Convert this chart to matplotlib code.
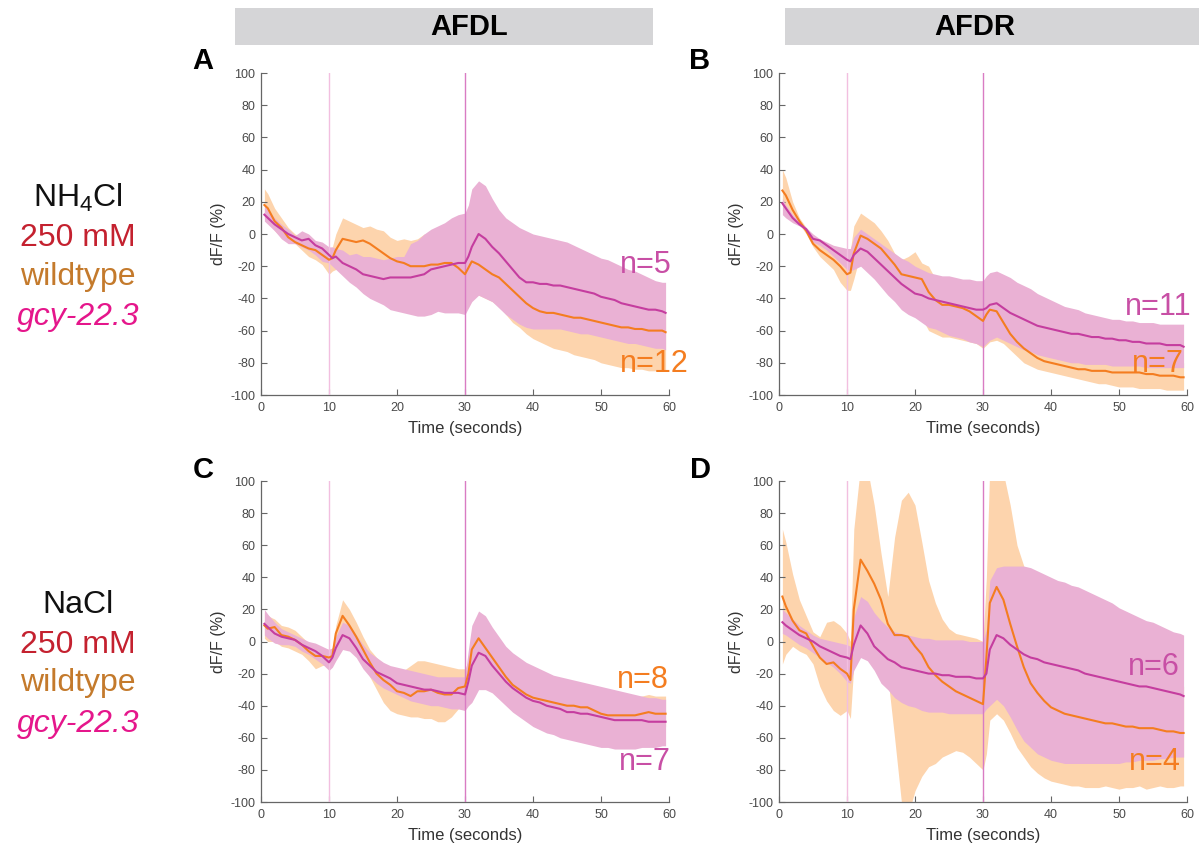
import numpy as np
import matplotlib.pyplot as plt
from matplotlib.patches import Rectangle

plt.rcParams['font.family'] = ['Liberation Sans', 'DejaVu Sans']
plt.rcParams['mathtext.fontset'] = 'custom'
plt.rcParams['mathtext.rm'] = 'Liberation Sans'
plt.rcParams['mathtext.it'] = 'Liberation Sans:italic'
plt.rcParams['axes.unicode_minus'] = False

# sampling grid (s): 0.5, 1..10, 10.5, 11..30, 30.5, 31..59, 59.5
t = np.concatenate(([0.5], np.arange(1, 11), [10.5], np.arange(11, 31), [30.5], np.arange(31, 60), [59.5]))

# ---------------- A : AFDL, NH4Cl ----------------
a_wt_mean = [18, 16, 8, 4, -2, -5, -7, -9, -10, -13, -16,
             -15, -10, -3, -4, -5, -4, -6, -9, -12, -15, -17, -18, -20, -20, -20, -19, -19, -18, -18, -21, -25,
             -21, -17, -19, -22, -25, -27, -31, -35, -39, -43, -46, -48, -49, -49, -50, -51, -52, -52, -53, -54,
             -55, -56, -57, -58, -58, -59, -59, -60, -60, -60, -61]
a_wt_hi = [28, 25, 16, 10, 4, 0, -2, -4, -6, -8, -10,
           -8, 0, 10, 8, 6, 4, 5, 3, 2, -2, -4, -3, -4, -3, 0, -2, -5, -6, -8, -10, -12,
           -10, -5, -7, -10, -13, -15, -19, -23, -27, -31, -35, -36, -37, -38, -39, -41, -40, -41, -42, -43,
           -44, -45, -46, -47, -47, -47, -48, -48, -48, -48, -49]
a_wt_lo = [10, 8, 2, -2, -5, -6, -10, -14, -16, -19, -25,
           -23, -22, -15, -16, -18, -20, -22, -25, -28, -30, -32, -33, -35, -36, -36, -35, -35, -35, -36, -38, -40,
           -38, -37, -38, -40, -42, -45, -50, -55, -58, -62, -65, -67, -69, -71, -72, -73, -75, -76, -77, -78,
           -80, -81, -82, -83, -83, -84, -84, -85, -85, -85, -85]
a_gcy_mean = [12, 10, 6, 3, 0, -2, -4, -3, -7, -9, -13,
              -15, -14, -18, -20, -22, -25, -26, -27, -28, -27, -27, -27, -27, -26, -25, -22, -21, -20, -19, -18, -18,
              -14, -8, 0, -3, -8, -12, -17, -22, -27, -30, -30, -31, -31, -32, -32, -33, -34, -35, -36, -37,
              -39, -40, -41, -43, -44, -45, -46, -47, -47, -48, -49]
a_gcy_hi = [18, 15, 10, 6, 3, -1, 2, 0, -4, -5, -8,
            -8, -9, -10, -13, -12, -14, -14, -15, -16, -15, -14, -14, -6, -4, 0, 3, 5, 7, 10, 12, 13,
            18, 28, 33, 30, 22, 15, 10, 7, 4, 2, 0, -1, -2, -3, -4, -5, -7, -9, -11, -13,
            -15, -16, -18, -20, -22, -23, -25, -27, -29, -30, -30]
a_gcy_lo = [8, 6, 2, -3, -6, -6, -8, -10, -13, -17, -18,
            -20, -22, -26, -30, -33, -37, -40, -42, -44, -47, -48, -49, -50, -51, -51, -50, -48, -49, -49, -49, -50,
            -46, -42, -38, -40, -42, -46, -50, -53, -56, -58, -59, -59, -59, -59, -59, -60, -61, -62, -62, -63,
            -64, -65, -66, -67, -68, -68, -69, -70, -71, -71, -72]

# ---------------- B : AFDR, NH4Cl ----------------
b_wt_mean = [27, 24, 15, 8, 2, -6, -10, -13, -16, -20, -25,
             -24, -12, -1, -3, -6, -9, -14, -19, -25, -26, -27, -28, -36, -41, -44, -44, -45, -46, -48, -51, -54,
             -50, -47, -48, -55, -62, -67, -71, -74, -77, -79, -80, -81, -82, -83, -84, -84, -85, -85, -85, -86,
             -86, -86, -86, -86, -87, -87, -88, -88, -88, -89, -89]
b_wt_hi = [40, 35, 20, 10, 4, -2, -4, -6, -8, -10, -12,
           -10, 5, 13, 10, 7, 2, -4, -12, -16, -14, -11, -18, -20, -28, -32, -34, -35, -36, -38, -40, -42,
           -38, -35, -36, -42, -47, -52, -57, -61, -65, -68, -70, -71, -72, -73, -74, -75, -76, -76, -77, -77,
           -78, -78, -78, -79, -79, -79, -79, -80, -80, -80, -80]
b_wt_lo = [18, 15, 10, 6, 0, -8, -14, -18, -22, -30, -35,
           -35, -28, -12, -14, -17, -20, -25, -32, -40, -45, -48, -52, -60, -62, -64, -64, -65, -66, -67, -68, -71,
           -69, -67, -66, -68, -72, -76, -80, -82, -84, -85, -86, -87, -88, -89, -90, -91, -92, -93, -93, -94,
           -95, -95, -95, -96, -96, -96, -96, -97, -97, -97, -97]
b_gcy_mean = [19, 16, 10, 6, 3, -3, -4, -7, -10, -13, -16,
              -17, -13, -9, -11, -15, -19, -23, -27, -31, -34, -37, -38, -40, -41, -42, -43, -44, -45, -46, -47, -47,
              -46, -44, -43, -46, -49, -51, -53, -55, -57, -58, -59, -60, -61, -62, -62, -63, -64, -64, -65, -65,
              -66, -66, -67, -67, -68, -68, -68, -69, -69, -69, -70]
b_gcy_hi = [22, 18, 12, 8, 4, 0, -3, -5, -7, -8, -9,
            -9, -2, 3, 0, -3, -6, -9, -12, -15, -17, -20, -22, -24, -25, -26, -26, -27, -28, -28, -29, -29,
            -26, -24, -23, -25, -27, -30, -32, -34, -37, -39, -41, -43, -45, -46, -47, -49, -50, -51, -52, -53,
            -53, -54, -54, -55, -55, -55, -56, -56, -56, -56, -56]
b_gcy_lo = [12, 10, 7, 5, 2, -5, -7, -10, -14, -18, -22,
            -23, -22, -20, -24, -28, -33, -38, -42, -47, -50, -52, -55, -58, -59, -61, -63, -64, -65, -67, -68, -70,
            -68, -66, -64, -66, -68, -70, -72, -73, -75, -76, -77, -78, -79, -80, -80, -81, -81, -81, -81, -82,
            -82, -82, -82, -82, -83, -83, -83, -83, -83, -83, -83]

# ---------------- C : AFDL, NaCl ----------------
c_wt_mean = [10, 8, 9, 4, 3, 1, -2, -6, -9, -9, -10,
             -9, 5, 16, 10, 3, -5, -13, -20, -24, -27, -31, -32, -34, -31, -31, -30, -32, -33, -33, -29, -28,
             -20, -5, 2, -4, -10, -16, -22, -27, -30, -33, -35, -36, -37, -38, -39, -40, -40, -41, -41, -43,
             -45, -46, -46, -46, -46, -46, -45, -44, -45, -45, -45]
c_wt_hi = [18, 16, 14, 10, 9, 7, 3, -1, -4, -4, -5,
           -4, 10, 26, 20, 12, 3, -5, -10, -14, -16, -18, -18, -15, -12, -12, -13, -14, -15, -16, -17, -17,
           -12, 5, 12, 10, 4, -4, -10, -15, -19, -22, -25, -27, -28, -29, -30, -31, -31, -32, -32, -33,
           -34, -35, -35, -35, -35, -35, -34, -33, -34, -34, -34]
c_wt_lo = [2, 0, 0, -3, -4, -6, -8, -12, -17, -15, -14,
           -14, -3, 6, 0, -6, -14, -22, -30, -38, -43, -45, -46, -47, -47, -48, -48, -50, -50, -47, -42, -38,
           -30, -15, -8, -10, -16, -22, -28, -33, -37, -40, -42, -44, -45, -46, -47, -48, -48, -49, -49, -51,
           -53, -54, -54, -54, -54, -54, -53, -52, -53, -53, -53]
c_gcy_mean = [11, 9, 5, 3, 2, 1, -2, -4, -6, -9, -13,
              -10, -4, 4, 2, -4, -11, -15, -19, -21, -23, -26, -27, -28, -29, -30, -30, -31, -32, -32, -32, -33,
              -25, -15, -7, -9, -15, -20, -25, -29, -32, -35, -37, -38, -40, -41, -42, -44, -44, -45, -45, -46,
              -47, -48, -49, -49, -49, -49, -49, -50, -50, -50, -50]
c_gcy_hi = [20, 17, 12, 8, 6, 4, 2, 0, -1, -3, -5,
            -4, 3, 12, 10, 4, -2, -7, -10, -13, -15, -16, -17, -18, -19, -20, -21, -22, -22, -22, -22, -22,
            -5, 10, 19, 16, 9, 3, -3, -7, -10, -13, -15, -17, -19, -21, -22, -23, -24, -25, -26, -27,
            -28, -29, -30, -31, -32, -33, -34, -35, -35, -36, -36]
c_gcy_lo = [4, 2, -1, -2, -2, -3, -6, -8, -11, -14, -18,
            -16, -12, -5, -6, -10, -17, -22, -26, -29, -31, -33, -35, -37, -38, -39, -40, -40, -41, -42, -42, -43,
            -40, -38, -30, -30, -32, -36, -40, -44, -47, -50, -53, -55, -57, -58, -60, -61, -62, -63, -64, -65,
            -66, -66, -67, -67, -67, -67, -66, -66, -66, -65, -65]

# ---------------- D : AFDR, NaCl ----------------
d_wt_mean = [28, 22, 13, 7, 5, -3, -10, -14, -13, -17, -20,
             -24, 20, 51, 44, 36, 26, 11, 4, 4, 3, -3, -8, -16, -21, -25, -28, -31, -33, -35, -37, -39,
             -10, 24, 34, 26, 11, -3, -16, -26, -32, -37, -41, -43, -45, -46, -47, -48, -49, -50, -51, -51,
             -52, -53, -53, -54, -54, -54, -55, -56, -56, -57, -57]
d_wt_hi = [70, 62, 42, 26, 16, 6, 3, 12, 13, 10, 5,
           0, 70, 110, 108, 85, 55, 28, 65, 88, 93, 85, 62, 38, 24, 14, 8, 5, 4, 3, 2, 0,
           40, 110, 112, 105, 85, 60, 47, 35, 22, 12, 4, -5, -8, -10, -12, -14, -15, -16, -17, -18,
           -19, -20, -21, -22, -23, -24, -25, -26, -27, -27, -28]
d_wt_lo = [-14, -8, -3, -6, -8, -14, -28, -37, -43, -46, -43,
           -48, -15, 5, 0, -5, -10, -22, -60, -100, -108, -93, -84, -78, -76, -72, -70, -68, -69, -72, -76, -80,
           -70, -49, -45, -49, -57, -66, -72, -78, -82, -85, -87, -88, -89, -90, -90, -91, -91, -91, -90, -91,
           -92, -91, -91, -90, -92, -91, -90, -91, -91, -90, -90]
d_gcy_mean = [12, 10, 7, 4, 2, 0, -3, -5, -7, -9, -10,
              -11, -2, 10, 5, -3, -7, -11, -13, -16, -17, -18, -19, -20, -20, -21, -21, -22, -22, -22, -23, -23,
              -20, -5, 4, 2, -2, -5, -8, -10, -11, -13, -14, -15, -16, -17, -18, -20, -21, -22, -23, -24,
              -25, -26, -27, -28, -28, -29, -30, -31, -32, -33, -34]
d_gcy_hi = [20, 18, 14, 10, 7, 4, 2, 1, 0, -1, -2,
            -3, 15, 28, 25, 18, 13, 9, 6, 5, 4, 3, 2, 2, 1, 1, 1, 1, 1, 0, 0, 0,
            8, 38, 46, 47, 47, 47, 47, 46, 44, 42, 40, 38, 37, 35, 34, 32, 30, 28, 26, 24,
            21, 19, 17, 15, 13, 12, 10, 8, 6, 5, 4]
d_gcy_lo = [5, 4, 1, -2, -4, -7, -10, -13, -16, -20, -25,
            -26, -18, -10, -12, -18, -26, -30, -35, -38, -40, -41, -43, -44, -44, -44, -45, -45, -45, -45, -45, -45,
            -42, -40, -36, -40, -47, -55, -62, -66, -70, -72, -74, -75, -76, -76, -76, -76, -76, -76, -76, -76,
            -76, -75, -75, -74, -74, -74, -73, -73, -72, -72, -72]

n_labels = [("n=12", "n=5"), ("n=7", "n=11"), ("n=8", "n=7"), ("n=4", "n=6")]

# colours
wt_line = '#f47d20'
wt_band = '#fdd4ad'
gcy_line = '#c53d9f'
gcy_band = '#eab1d4'

W, H = 1199, 847
fig = plt.figure(figsize=(W / 100, H / 100), dpi=100)

panels = [
    ('A', [261, 73, 408, 322], a_wt_mean, a_wt_hi, a_wt_lo, a_gcy_mean, a_gcy_hi, a_gcy_lo),
    ('B', [779, 73, 408, 322], b_wt_mean, b_wt_hi, b_wt_lo, b_gcy_mean, b_gcy_hi, b_gcy_lo),
    ('C', [261, 481, 408, 321], c_wt_mean, c_wt_hi, c_wt_lo, c_gcy_mean, c_gcy_hi, c_gcy_lo),
    ('D', [779, 481, 408, 321], d_wt_mean, d_wt_hi, d_wt_lo, d_gcy_mean, d_gcy_hi, d_gcy_lo),
]
# n label placement (x left edge, baseline y) in data units: (wt, gcy)
n_pos = [((52.8, -86), (52.8, -24)),
         ((51.9, -86), (50.9, -50)),
         ((52.4, -29), (52.6, -80)),
         ((51.5, -80), (51.3, -21))]

for i, (letter, box, wm, wh, wl, gm, gh, gl) in enumerate(panels):
    x0, y0, w, h = box
    ax = fig.add_axes([x0 / W, 1 - (y0 + h) / H, w / W, h / H])
    ax.fill_between(t, wl, wh, color=wt_band, lw=0, zorder=1)
    ax.fill_between(t, gl, gh, color=gcy_band, lw=0, zorder=2)
    ax.axvline(10, color='#f2bfe0', lw=1.0, zorder=3)
    ax.axvline(30, color='#d97cc3', lw=1.0, zorder=3)
    ax.plot(t, wm, color=wt_line, lw=1.5, zorder=4)
    ax.plot(t, gm, color=gcy_line, lw=1.5, zorder=5)
    ax.set_xlim(0, 60)
    ax.set_ylim(-100, 100)
    ax.set_xticks(range(0, 61, 10))
    ax.set_yticks(range(-100, 101, 20))
    for s in ['top', 'right']:
        ax.spines[s].set_visible(False)
    for s in ['left', 'bottom']:
        ax.spines[s].set_color('#666666')
        ax.spines[s].set_linewidth(0.9)
    ax.tick_params(direction='in', length=4, width=0.8, color='#666666',
                   labelcolor='#4a4a4a', labelsize=9)
    ax.tick_params(axis='x', pad=5)
    ax.tick_params(axis='y', pad=4)
    ax.set_xlabel('Time (seconds)', fontsize=12, color='#333333', labelpad=5)
    ax.set_ylabel('dF/F (%)', fontsize=11.5, color='#333333', labelpad=3)
    (wx, wy), (gx, gy) = n_pos[i]
    ax.text(wx, wy, n_labels[i][0], color=wt_line, fontsize=22, ha='left', va='baseline', zorder=6)
    ax.text(gx, gy, n_labels[i][1], color='#c84fa5', fontsize=22, ha='left', va='baseline', zorder=6)
    lx = 203 if x0 < 500 else 700
    ly = 61 if y0 < 300 else 470
    fig.text(lx / W, 1 - ly / H, letter, fontsize=21, fontweight='bold', ha='center', va='center')

# header bars
fig.add_artist(Rectangle((235 / W, 1 - 45 / H), 418 / W, 37 / H, transform=fig.transFigure,
                         color='#d5d5d7', lw=0))
fig.add_artist(Rectangle((785 / W, 1 - 45 / H), 414 / W, 37 / H, transform=fig.transFigure,
                         color='#d5d5d7', lw=0))
fig.text(469 / W, 1 - 27 / H, 'AFDL', fontsize=21, fontweight='bold', ha='center', va='center')
fig.text(975 / W, 1 - 27 / H, 'AFDR', fontsize=21, fontweight='bold', ha='center', va='center')

# row labels
row_labels = [
    ([r'NH$_\mathregular{4}$Cl', '250 mM', 'wildtype', 'gcy-22.3'], [207, 246, 285, 325]),
    (['NaCl', '250 mM', 'wildtype', 'gcy-22.3'], [613, 653, 691, 732]),
]
row_colors = ['#111111', '#c4212f', '#c47a2c', '#e5168b']
for labels, ys in row_labels:
    for k, (txt, yy) in enumerate(zip(labels, ys)):
        fig.text(78 / W, 1 - yy / H, txt, fontsize=23, color=row_colors[k], ha='center',
                 va='baseline', style='italic' if k == 3 else 'normal')

fig.savefig('out.png', dpi=100)
